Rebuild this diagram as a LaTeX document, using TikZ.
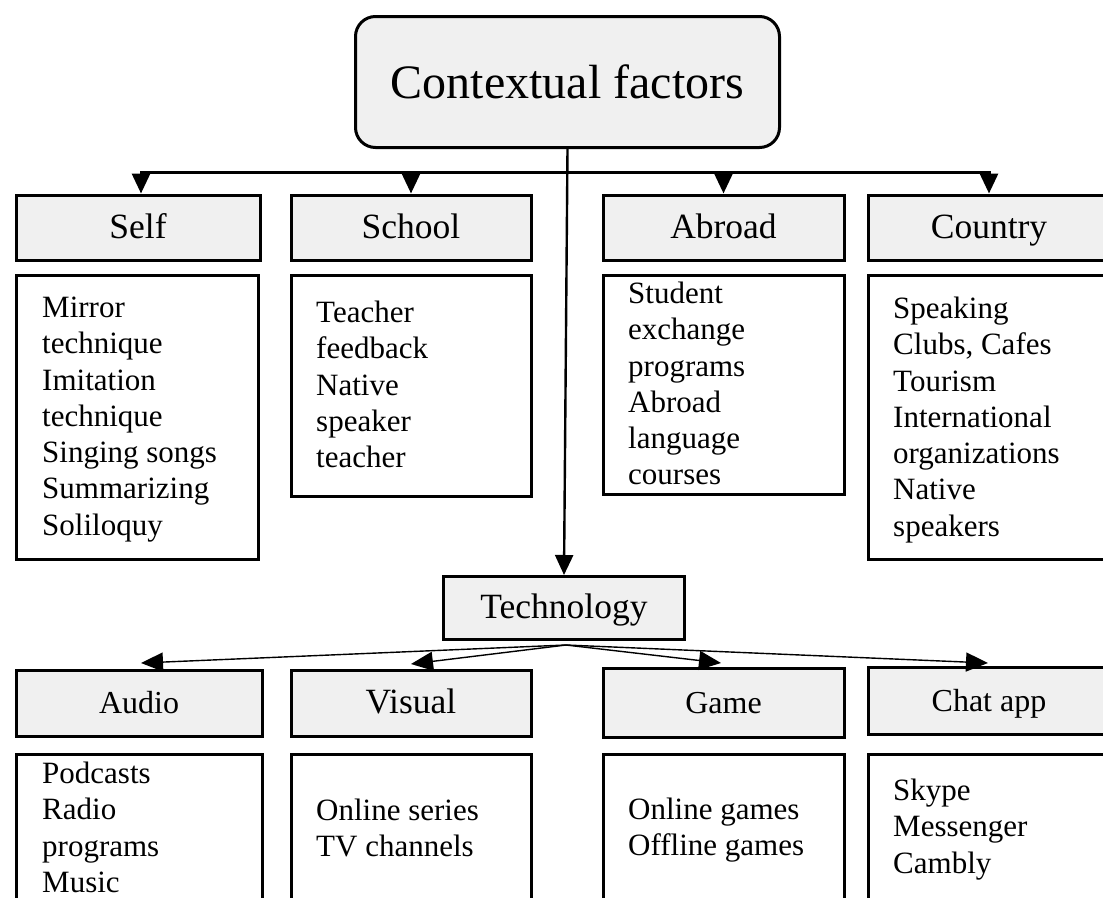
\documentclass[tikz,border=0pt]{standalone}
\usepackage{fontspec}
\setmainfont{Liberation Serif}
\usetikzlibrary{arrows.meta}
\definecolor{boxgray}{HTML}{F0F0F0}
\tikzset{
  lbl/.style={draw, line width=3pt, fill=boxgray, inner sep=0pt, anchor=north west, text height=21pt, text depth=0pt, font=\fontsize{35.5}{40}\selectfont},
  lbls/.style={lbl, font=\fontsize{32}{36}\selectfont},
  lst/.style={draw, line width=3pt, inner sep=0pt, anchor=north west},
  txt/.style={anchor=north west, inner sep=0pt, align=left, font=\fontsize{31}{36.3}\selectfont},
  toparr/.style={line width=3pt, -{Triangle[length=20pt,width=18pt]}},
  midarr/.style={line width=2.4pt, -{Triangle[length=20pt,width=18pt]}},
  botarr/.style={line width=1.4pt, -{Triangle[length=22pt,width=19pt]}}
}
\begin{document}
\begin{tikzpicture}[x=1pt,y=-1pt]
\clip (0,0) rectangle (1103,897);
\fill[white] (0,0) rectangle (1103,897);
% top node
\node[draw, line width=3pt, fill=boxgray, rounded corners=20pt, minimum width=424pt, minimum height=131pt, inner sep=0pt,
  text height=32pt, text depth=0pt, font=\fontsize{48}{54}\selectfont] (ctx) at (567.5,82) {Contextual factors};
% first row labels
\node[lbl, minimum width=244pt, minimum height=65pt] (self) at (14.5,193.5) {Self};
\node[lbl, minimum width=240pt, minimum height=65pt] (school) at (289.5,193.5) {School};
\node[lbl, minimum width=241pt, minimum height=65pt] (abroad) at (601.5,193.5) {Abroad};
\node[lbl, minimum width=242pt, minimum height=65pt] (country) at (866.5,193.5) {Country};
% first row lists
\node[lst, minimum width=242pt, minimum height=284pt] (selfl) at (14.5,273.5) {};
\node[lst, minimum width=240pt, minimum height=221pt] (schooll) at (289.5,273.5) {};
\node[lst, minimum width=241pt, minimum height=219pt] (abroadl) at (601.5,273.5) {};
\node[lst, minimum width=242pt, minimum height=284pt] (countryl) at (866.5,273.5) {};
\node[txt] (selft) at (42,291.8) {\strut Mirror\\technique\\Imitation\\technique\\Singing songs\\Summarizing\\Soliloquy};
\node[txt] (schoolt) at (316,296.8) {\strut Teacher\\feedback\\Native\\speaker\\teacher};
\node[txt] (abroadt) at (628,277.8) {\strut Student\\exchange\\programs\\Abroad\\language\\courses};
\node[txt] (countryt) at (893,292.8) {\strut Speaking\\Clubs, Cafes\\Tourism\\International\\organizations\\Native\\speakers};
% technology
\node[draw, line width=3pt, fill=boxgray, inner sep=0pt, minimum width=241pt, minimum height=63pt,
  text height=21pt, text depth=0pt, font=\fontsize{35.5}{40}\selectfont] (tech) at (564,608) {Technology};
% second row labels
\node[lbls, minimum width=246pt, minimum height=66pt] (audio) at (14.5,668.5) {Audio};
\node[lbl, minimum width=240pt, minimum height=66pt] (visual) at (289.5,668.5) {Visual};
\node[lbls, minimum width=241pt, minimum height=69pt] (game) at (601.5,666.5) {Game};
\node[lbls, minimum width=242pt, minimum height=67pt] (chat) at (866.5,665.5) {Chat app};
% second row lists
\node[lst, minimum width=246pt, minimum height=200pt] (audiol) at (14.5,752.5) {};
\node[lst, minimum width=240pt, minimum height=200pt] (visuall) at (289.5,752.5) {};
\node[lst, minimum width=241pt, minimum height=200pt] (gamel) at (601.5,752.5) {};
\node[lst, minimum width=242pt, minimum height=200pt] (chatl) at (866.5,752.5) {};
\node[txt] (audiot) at (42,757.8) {\strut Podcasts\\Radio\\programs\\Music};
\node[txt] (visualt) at (316,794.8) {\strut Online series\\TV channels};
\node[txt] (gamet) at (628,793.8) {\strut Online games\\Offline games};
\node[txt] (chatt) at (893,774.8) {\strut Skype\\Messenger\\Cambly};
% connectors
\coordinate (hub) at (567,172);
\draw[toparr] (hub) -| (self.north -| 141,0);
\draw[toparr] (hub) -| (school.north);
\draw[toparr] (hub) -| (abroad.north);
\draw[toparr] (hub) -| (country.north);
\draw[midarr] (ctx.south) -- (tech.north);
\coordinate (tb) at (566,645);
\draw[botarr] (tb) -- (141,663) coordinate (aend);
\draw[botarr] (tb) -- (411,664) coordinate (vend);
\draw[botarr] (tb) -- (721,663) coordinate (gend);
\draw[botarr] (tb) -- (988,663) coordinate (cend);
\end{tikzpicture}
\end{document}
